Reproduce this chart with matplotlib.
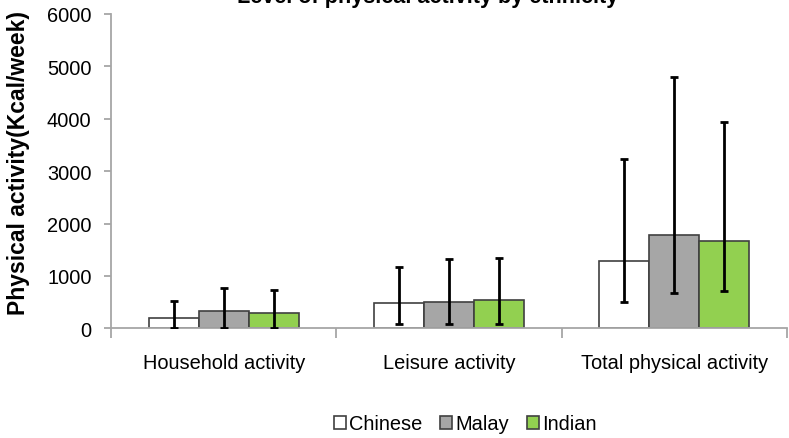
import matplotlib.pyplot as plt
import numpy as np

plt.rcParams['font.family'] = ['Liberation Sans', 'DejaVu Sans']

categories = ['Household activity', 'Leisure activity', 'Total physical activity']
groups = ['Chinese', 'Malay', 'Indian']

# mean values (Kcal/week)
chinese = [197, 477, 1290]
malay = [336, 496, 1775]
indian = [298, 546, 1667]

# error bar ends (lower, upper)
chinese_lo = [10, 76, 496]
chinese_hi = [515, 1170, 3231]
malay_lo = [10, 76, 668]
malay_hi = [764, 1320, 4790]
indian_lo = [10, 76, 718]
indian_hi = [731, 1340, 3943]

colors = ['white', '#A6A6A6', '#92D050']
edges = ['#404040', '#404040', '#404040']

fig = plt.figure(figsize=(7.89, 4.39), dpi=100)
ax = fig.add_axes([111/789, 1-329.3/439, 676/789, (329.3-15)/439])

x = np.arange(len(categories))
w = 0.222
series = [(chinese, chinese_lo, chinese_hi), (malay, malay_lo, malay_hi), (indian, indian_lo, indian_hi)]
for i, (vals, lo, hi) in enumerate(series):
    pos = x + (i - 1) * w
    vals = np.array(vals)
    yerr = [vals - np.array(lo), np.array(hi) - vals]
    ax.bar(pos, vals, w, color=colors[i], edgecolor=edges[i], linewidth=1.2, label=groups[i], zorder=2)
    ax.errorbar(pos, vals, yerr=yerr, fmt='none', ecolor='black', elinewidth=2, capsize=3, capthick=2, zorder=3)

ax.set_xlim(-0.5, 2.5)
ax.set_ylim(0, 6000)
ax.set_yticks(range(0, 6001, 1000))
ax.set_xticks(x)
ax.set_xticklabels(categories)
ax.set_xticks([-0.5, 0.5, 1.5, 2.5], minor=True)
ax.tick_params(axis='x', which='major', length=0, pad=18, labelsize=14.4)
ax.tick_params(axis='x', which='minor', length=7, width=1.3, color='#A6A6A6')
ax.tick_params(axis='y', length=5, width=1.3, color='#A6A6A6', pad=9, labelsize=14.4)

for s in ['top', 'right']:
    ax.spines[s].set_visible(False)
for s in ['left', 'bottom']:
    ax.spines[s].set_color('#A6A6A6')
    ax.spines[s].set_linewidth(1.3)

fig.text(428/789, 1-3/439, 'Level of physical activity by ethnicity', ha='center', va='baseline',
         fontsize=15.6, fontweight='bold')
fig.text(19/789, 1-163/439, 'Physical activity(Kcal/week)', rotation=90, ha='center', va='center',
         fontsize=16.5, fontweight='bold')

ax.legend(loc='center', bbox_to_anchor=(465/789, 1-425/439), bbox_transform=fig.transFigure,
          ncol=3, frameon=False, fontsize=14.4, handlelength=0.6, handleheight=0.6,
          handletextpad=0.15, columnspacing=0.9, borderpad=0)

fig.savefig('out.png', dpi=100)
